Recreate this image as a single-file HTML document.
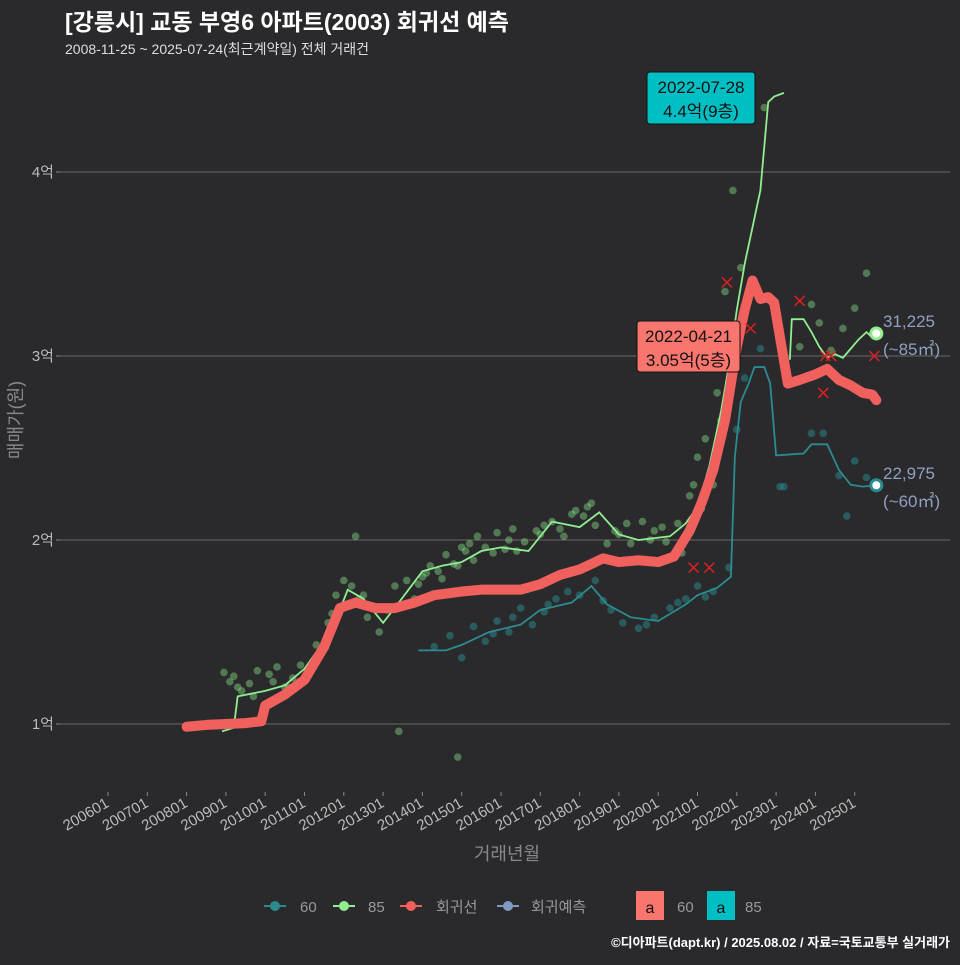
<!DOCTYPE html>
<html><head><meta charset="utf-8">
<style>
html,body{margin:0;padding:0;background:#2a2a2c;}
body{width:960px;height:960px;overflow:hidden;font-family:"Liberation Sans","Noto Sans CJK KR",sans-serif;}
</style></head>
<body>
<svg id="chart" width="960" height="960" xmlns="http://www.w3.org/2000/svg" style="font-family:'Liberation Sans','Noto Sans CJK KR',sans-serif">
<rect width="960" height="960" fill="#2a2a2c"/>
<text x="65" y="30" fill="#ffffff" font-size="23" font-weight="bold">[강릉시] 교동 부영6 아파트(2003) 회귀선 예측</text>
<text x="65" y="54" fill="#dddddd" font-size="14">2008-11-25 ~ 2025-07-24(최근계약일) 전체 거래건</text>
<g id="grid"></g>
<g id="marks"></g>
<text transform="translate(22,420) rotate(-90)" text-anchor="middle" fill="#888" font-size="18">매매가(원)</text>
<text x="507" y="860" text-anchor="middle" fill="#888" font-size="18">거래년월</text>
<g font-size="15" fill="#999">
 <g><line x1="264" y1="906" x2="286" y2="906" stroke="#2a8c8f" stroke-width="2"/><circle cx="275" cy="906" r="5" fill="#2a8c8f"/><text x="300" y="912">60</text></g>
 <g><line x1="333" y1="906" x2="355" y2="906" stroke="#90ee90" stroke-width="2"/><circle cx="344" cy="906" r="5" fill="#90ee90"/><text x="368" y="912">85</text></g>
 <g><line x1="400" y1="906" x2="422" y2="906" stroke="#f0605d" stroke-width="2"/><circle cx="411" cy="906" r="5" fill="#f0605d"/><text x="436" y="912">회귀선</text></g>
 <g><line x1="497" y1="906" x2="519" y2="906" stroke="#7f9bc4" stroke-width="2"/><circle cx="508" cy="906" r="5" fill="#7f9bc4"/><text x="531" y="912">회귀예측</text></g>
 <g><rect x="636" y="891" width="28" height="29" fill="#f8766d"/><text x="650" y="913" text-anchor="middle" fill="#111" font-size="16">a</text><text x="677" y="912">60</text></g>
 <g><rect x="707" y="891" width="28" height="29" fill="#00bfc4"/><text x="721" y="913" text-anchor="middle" fill="#111" font-size="16">a</text><text x="745" y="912">85</text></g>
</g>
<text x="950" y="947" text-anchor="end" fill="#ffffff" font-size="13" font-weight="bold">©디아파트(dapt.kr) / 2025.08.02 / 자료=국토교통부 실거래가</text>
</svg>
<script>
const yTicks=[10000,20000,30000,40000];
const yTickLabels=["1억","2억","3억","4억"];
const xTicks=[2006,2007,2008,2009,2010,2011,2012,2013,2014,2015,2016,2017,2018,2019,2020,2021,2022,2023,2024,2025];
const xTickLabels=["200601","200701","200801","200901","201001","201101","201201","201301","201401","201501","201601","201701","201801","201901","202001","202101","202201","202301","202401","202501"];
const regDates=[2008.0,2008.5,2009.0,2009.5,2009.9,2010.0,2010.5,2011.0,2011.5,2011.9,2012.3,2012.8,2013.3,2013.8,2014.3,2015.0,2015.5,2016.0,2016.5,2017.0,2017.5,2018.0,2018.6,2019.0,2019.5,2020.0,2020.4,2020.8,2021.1,2021.4,2021.7,2022.0,2022.2,2022.4,2022.6,2022.8,2022.95,2023.1,2023.3,2023.6,2024.0,2024.3,2024.6,2024.9,2025.2,2025.45,2025.55];
const regValues=[9850,9950,10000,10050,10150,11000,11600,12400,14200,16300,16600,16300,16300,16600,17000,17200,17300,17300,17300,17600,18100,18400,19000,18800,18900,18800,19100,20500,22000,23800,26500,30500,32500,34100,33100,33200,32900,31000,28500,28700,29000,29300,28700,28400,28000,27900,27600];
const g85Dates=[2008.9,2009.2,2009.3,2010.0,2010.5,2011.0,2011.5,2011.9,2012.1,2012.5,2013.0,2013.4,2014.0,2014.5,2015.0,2015.5,2016.0,2016.7,2017.3,2018.0,2018.5,2019.0,2019.5,2020.3,2020.7,2021.0,2021.3,2021.6,2021.8,2022.0,2022.2,2022.4,2022.6,2022.8,2022.95,2023.2];
const g85Values=[9600,9800,11500,11800,12100,13000,14500,16200,17300,16800,15500,16600,18300,18600,18800,19400,19600,19400,21000,20700,21500,20300,20000,20200,20900,21800,24000,27000,29500,32500,35000,37000,39000,43800,44100,44300];
const g85bDates=[2023.35,2023.4,2023.7,2023.9,2024.1,2024.3,2024.5,2024.7,2024.9,2025.1,2025.3,2025.45,2025.55];
const g85bValues=[29800,32000,32000,31300,30500,29900,30100,29900,30400,30900,31300,31000,31225];
const g60Dates=[2013.9,2014.6,2015.0,2015.7,2016.5,2017.0,2017.8,2018.3,2018.7,2019.3,2020.0,2020.7,2021.0,2021.5,2021.85,2021.95,2022.1,2022.3,2022.45,2022.7,2022.85,2023.0,2023.7,2023.9,2024.3,2024.6,2024.9,2025.2,2025.55];
const g60Values=[14000,14000,14300,15000,15400,16200,16600,17500,16500,15800,15600,16500,17000,17400,18000,24500,27500,28500,29400,29400,28500,24600,24700,25200,25200,23800,23000,22900,22975];
const ptDates85=[2008.95,2009.1,2009.2,2009.4,2009.6,2009.8,2010.1,2010.3,2010.5,2010.7,2010.9,2011.1,2011.3,2011.6,2011.8,2012.0,2012.2,2012.4,2012.6,2012.9,2013.1,2013.3,2013.6,2013.8,2014.0,2014.2,2014.4,2014.6,2014.8,2015.0,2015.2,2015.4,2015.6,2015.9,2016.1,2016.3,2016.6,2016.9,2017.1,2017.3,2017.6,2017.9,2018.1,2018.4,2018.7,2019.0,2019.3,2019.6,2019.9,2020.2,2020.5,2020.8,2021.0,2021.2,2021.5,2021.7,2021.9,2022.1,2022.3,2022.7,2023.6,2023.9,2024.1,2024.4,2024.7,2025.0,2025.3,2012.3,2013.4,2014.9,2018.3,2020.9,2009.3,2009.7,2010.2,2010.6,2011.4,2011.7,2012.5,2013.9,2014.1,2014.5,2014.9,2015.1,2015.3,2015.8,2016.2,2016.4,2017.0,2017.5,2017.8,2018.2,2018.9,2019.2,2019.8,2020.1,2020.6,2021.1,2021.4,2021.6];
const ptValues85=[12800,12300,12600,11800,12200,12900,12700,13100,12000,12500,13200,13000,14300,15500,17000,17800,17500,16800,15800,15000,16200,17500,17800,16800,18000,18600,18300,19200,18700,19600,19800,20200,19600,20400,19500,20600,19900,20500,20800,21000,20200,21600,21300,20800,19800,20300,19800,21000,20500,19900,20900,22400,24500,25500,28000,33500,39000,34800,44000,43500,30500,32800,31800,30300,31500,32600,34500,20200,9600,8200,22000,23000,12000,11500,12300,12000,13800,16000,17000,17600,18200,17900,18600,19400,18900,19300,20000,19400,20300,20600,21400,21800,20500,20900,20000,20700,19300,21700,23000,26500];
const ptDates60=[2014.3,2014.7,2015.0,2015.3,2015.6,2015.9,2016.2,2016.5,2016.8,2017.1,2017.4,2017.7,2018.0,2018.4,2018.8,2019.1,2019.5,2019.9,2020.3,2020.7,2021.0,2021.4,2021.8,2022.0,2022.2,2022.6,2023.2,2023.9,2024.2,2024.6,2025.0,2025.3,2015.8,2016.3,2017.2,2018.6,2019.7,2020.5,2021.2,2023.1,2024.8];
const ptValues60=[14200,14800,13600,15300,14500,15600,15000,16300,15400,16100,16800,17200,17000,17800,16200,15500,15200,15800,16300,16800,17500,17200,18500,26000,28800,30400,22900,25800,25800,23500,24300,23400,14900,15800,16500,16700,15400,16600,16900,22900,21300];
const xDates=[2020.9,2021.3,2021.75,2022.35,2023.6,2024.25,2024.4,2025.5,2024.2];
const xValues=[18500,18500,34000,31500,33000,30000,30000,30000,28000];
const NS='http://www.w3.org/2000/svg';
function X(t){return 108+(t-2006)*39.3;}
function Y(v){return 724-(v-10000)*0.0184;}
function el(tag,attrs,parent){const e=document.createElementNS(NS,tag);for(const k in attrs)e.setAttribute(k,attrs[k]);parent.appendChild(e);return e;}
const grid=document.getElementById('grid'),marks=document.getElementById('marks');
yTicks.forEach((v,i)=>{
 const l=el('line',{x1:60,x2:950,y1:Y(v),y2:Y(v),stroke:'#555','stroke-width':1.5},grid);
 
 
 const tk=el('line',{x1:56,x2:60,y1:Y(v),y2:Y(v),stroke:'#888'},grid);
 
 
 const t=el('text',{x:54,y:Y(v)+5,'text-anchor':'end',fill:'#bbb','font-size':15},grid);
 t.textContent=yTickLabels[i];
 
 
});
xTicks.forEach((d,i)=>{
 const x=X(d);
 const tk=el('line',{x1:x,x2:x,y1:792,y2:796,stroke:'#888'},grid);
 
 
 const t=el('text',{x:x+2,y:806,'text-anchor':'end',fill:'#bbb','font-size':15,transform:`rotate(-30 ${x+2} 806)`},grid);
 t.textContent=xTickLabels[i];
 
 
});
ptDates85.forEach((d,i)=>{
 const c=el('circle',{cx:X(d),cy:Y(ptValues85[i]),r:3.8,fill:'#90ee90','fill-opacity':0.4},marks);
 
 
});
ptDates60.forEach((d,i)=>{
 const c=el('circle',{cx:X(d),cy:Y(ptValues60[i]),r:3.8,fill:'#2a8c8f','fill-opacity':0.5},marks);
 
 
});
function linePath(ds,vs){return ds.map((d,i)=>(i?'L':'M')+X(d)+','+Y(vs[i])).join('');}
let p=el('path',{d:linePath(g60Dates,g60Values),fill:'none',stroke:'#2a8c8f','stroke-width':1.8},marks);


p=el('path',{d:linePath(g85Dates,g85Values),fill:'none',stroke:'#90ee90','stroke-width':1.8},marks);


p=el('path',{d:linePath(g85bDates,g85bValues),fill:'none',stroke:'#90ee90','stroke-width':1.8},marks);


p=el('path',{d:linePath(regDates,regValues),fill:'none',stroke:'#f0605d','stroke-width':10,'stroke-linejoin':'round','stroke-linecap':'round'},marks);


xDates.forEach((d,i)=>{
 const x=X(d),y=Y(xValues[i]);
 const g=el('path',{d:`M${x-5},${y-5}L${x+5},${y+5}M${x-5},${y+5}L${x+5},${y-5}`,stroke:'#e02020','stroke-width':1.5},marks);
 
 
});
let c=el('circle',{cx:X(2025.55),cy:Y(31225),r:5.5,fill:'#fff',stroke:'#90ee90','stroke-width':3},marks);


c=el('circle',{cx:X(2025.55),cy:Y(22975),r:5.5,fill:'#fff',stroke:'#2a8c8f','stroke-width':3},marks);


[['31,225',327,'end-label-85-value'],['(~85㎡)',355,'end-label-85-area'],['22,975',479,'end-label-60-value'],['(~60㎡)',507,'end-label-60-area']].forEach(a=>{
 const t=el('text',{x:883,y:a[1],fill:'#8fa0c0','font-size':17},marks);
 t.textContent=a[0];
 
 
});
function box(x,y,w,h,fill,l1,l2,name){
 const g=el('g',{},marks);
 
 
 el('rect',{x:x,y:y,width:w,height:h,rx:3,fill:fill,stroke:'#111','stroke-width':1},g);
 const t1=el('text',{x:x+w/2,y:y+21,'text-anchor':'middle',fill:'#111','font-size':17},g);t1.textContent=l1;
 const t2=el('text',{x:x+w/2,y:y+45,'text-anchor':'middle',fill:'#111','font-size':17},g);t2.textContent=l2;
}
box(647,72,108,52,'#00bfc4','2022-07-28','4.4억(9층)','max-annotation-85');
box(637,321,103,51,'#f8766d','2022-04-21','3.05억(5층)','max-annotation-60');
</script>
</body></html>
